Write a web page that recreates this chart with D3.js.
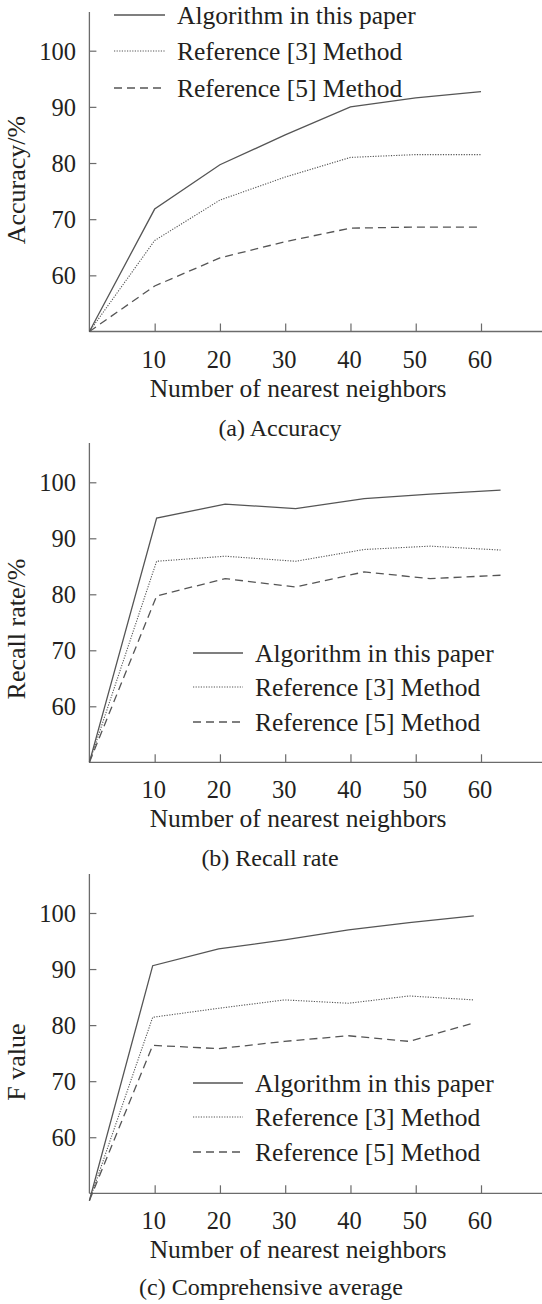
<!DOCTYPE html>
<html>
<head>
<meta charset="utf-8">
<script src="https://cdn.jsdelivr.net/npm/d3@7"></script>
<style>
  body { margin: 0; background: #fff; }
  svg { display: block; }
</style>
</head>
<body>
<div class="chart"></div>
<script>
const seriesNames = ['Algorithm in this paper', 'Reference [3] Method', 'Reference [5] Method'];
const xTicks = [10, 20, 30, 40, 50, 60];
const yTicks = [60, 70, 80, 90, 100];

// (a) Accuracy
const accuracyX = [0, 10, 20, 30, 40, 50, 60];
const accuracyOurs = [50, 71.8, 79.7, 85.0, 90.0, 91.6, 92.7];
const accuracyRef3 = [50, 66.2, 73.4, 77.5, 81.0, 81.5, 81.5];
const accuracyRef5 = [50, 58.1, 63.1, 66.0, 68.4, 68.6, 68.6];

// (b) Recall rate
const recallX = [0, 10.3, 20.8, 31.6, 42.1, 52.2, 63.0];
const recallOurs = [50, 93.6, 96.1, 95.3, 97.1, 97.9, 98.6];
const recallRef3 = [50, 85.9, 86.8, 85.9, 88.0, 88.6, 87.9];
const recallRef5 = [50, 79.7, 82.8, 81.3, 84.0, 82.8, 83.4];

// (c) F value
const fX = [0, 9.7, 19.8, 29.9, 39.7, 49.0, 58.9];
const fOurs = [48.7, 90.6, 93.6, 95.2, 97.0, 98.3, 99.5];
const fRef3 = [48.7, 81.4, 83.0, 84.5, 83.9, 85.2, 84.5];
const fRef5 = [48.7, 76.4, 75.8, 77.1, 78.1, 77.1, 80.4];

const panels = [
  {
    yLabel: 'Accuracy/%', caption: '(a) Accuracy',
    xs: accuracyX, series: [accuracyOurs, accuracyRef3, accuracyRef5],
    top: 12, y100: 50.7, y50: 331.5, yLabelMid: 180,
    legend: { x1: 114, x2: 165, ys: [15, 51, 88] },
    captionY: 436, captionX: 280
  },
  {
    yLabel: 'Recall rate/%', caption: '(b) Recall rate',
    xs: recallX, series: [recallOurs, recallRef3, recallRef5],
    top: 443, y100: 482.3, y50: 762.3, yLabelMid: 629,
    legend: { x1: 193, x2: 243, ys: [653, 687, 722] },
    captionY: 866, captionX: 270
  },
  {
    yLabel: 'F value', caption: '(c) Comprehensive average',
    xs: fX, series: [fOurs, fRef3, fRef5],
    top: 874, y100: 913, y50: 1193.3, yLabelMid: 1062,
    legend: { x1: 193, x2: 243, ys: [1083, 1117, 1152] },
    captionY: 1295, captionX: 271
  }
];

const chartWidth = 542;
const chartHeight = 1304;
const font = '"Liberation Serif", "Times New Roman", serif';
const axisColor = '#6b6b6b';
const lineColor = '#555';
const textColor = '#231f20';
const dashes = [null, '1.2,1.4', '8,5'];

const svg = d3.select('.chart')
  .append('svg')
  .attr('width', chartWidth)
  .attr('height', chartHeight);

const x0 = 89.4;
const xScale = d3.scaleLinear()
  .domain([0, 60])
  .range([x0, 481]);

const renderPanel = (p) => {
  const g = svg.append('g');
  const yScale = d3.scaleLinear()
    .domain([50, 100])
    .range([p.y50, p.y100]);

  // axes lines
  g.append('line')
    .attr('x1', x0).attr('x2', x0)
    .attr('y1', p.top).attr('y2', p.y50)
    .attr('stroke', axisColor).attr('stroke-width', 1.3);
  g.append('line')
    .attr('x1', x0).attr('x2', chartWidth)
    .attr('y1', p.y50).attr('y2', p.y50)
    .attr('stroke', axisColor).attr('stroke-width', 1.3);

  // x ticks (inward)
  const xAxis = d3.axisTop(xScale)
    .tickValues(xTicks)
    .tickSize(8)
    .tickFormat('');
  const xg = g.append('g')
    .attr('transform', `translate(0, ${p.y50})`)
    .call(xAxis);
  xg.select('.domain').remove();
  xg.selectAll('line').attr('stroke', axisColor).attr('stroke-width', 1.2);

  g.selectAll('.xlab')
    .data(xTicks)
    .enter()
    .append('text')
    .attr('x', d => xScale(d) - 1)
    .attr('y', p.y50 + 36)
    .attr('text-anchor', 'middle')
    .style('font-family', font)
    .style('font-size', '24.5px')
    .attr('fill', textColor)
    .text(d => d);

  // y ticks (inward)
  const yAxis = d3.axisRight(yScale)
    .tickValues(yTicks)
    .tickSize(7)
    .tickFormat('');
  const yg = g.append('g')
    .attr('transform', `translate(${x0}, 0)`)
    .call(yAxis);
  yg.select('.domain').remove();
  yg.selectAll('line').attr('stroke', axisColor).attr('stroke-width', 1.2);

  g.selectAll('.ylab')
    .data(yTicks)
    .enter()
    .append('text')
    .attr('x', 76)
    .attr('y', d => yScale(d) + 9)
    .attr('text-anchor', 'end')
    .style('font-family', font)
    .style('font-size', '24.5px')
    .attr('fill', textColor)
    .text(d => d);

  // axis titles
  g.append('text')
    .attr('transform', `translate(25, ${p.yLabelMid}) rotate(-90)`)
    .attr('text-anchor', 'middle')
    .style('font-family', font)
    .style('font-size', '26px')
    .attr('fill', textColor)
    .text(p.yLabel);

  g.append('text')
    .attr('x', 298)
    .attr('y', p.y50 + 65)
    .attr('text-anchor', 'middle')
    .style('font-family', font)
    .style('font-size', '25.5px')
    .attr('fill', textColor)
    .text('Number of nearest neighbors');

  g.append('text')
    .attr('x', p.captionX)
    .attr('y', p.captionY)
    .attr('text-anchor', 'middle')
    .style('font-family', font)
    .style('font-size', '24px')
    .attr('fill', textColor)
    .text(p.caption);

  // series lines
  const line = d3.line()
    .x((d, i) => xScale(p.xs[i]))
    .y(d => yScale(d));
  p.series.forEach((s, i) => {
    g.append('path')
      .datum(s)
      .attr('d', line)
      .attr('fill', 'none')
      .attr('stroke', lineColor)
      .attr('stroke-width', i === 1 ? 1.1 : 1.3)
      .attr('stroke-dasharray', dashes[i]);
  });

  // legend
  seriesNames.forEach((name, i) => {
    const ly = p.legend.ys[i];
    g.append('line')
      .attr('x1', p.legend.x1).attr('x2', p.legend.x2)
      .attr('y1', ly).attr('y2', ly)
      .attr('stroke', lineColor)
      .attr('stroke-width', i === 1 ? 1.1 : 1.3)
      .attr('stroke-dasharray', dashes[i]);
    g.append('text')
      .attr('x', p.legend.x2 + 12)
      .attr('y', ly + 9)
      .style('font-family', font)
      .style('font-size', '25.5px')
      .attr('fill', textColor)
      .text(name);
  });
};

panels.forEach(renderPanel);
</script>
</body>
</html>
